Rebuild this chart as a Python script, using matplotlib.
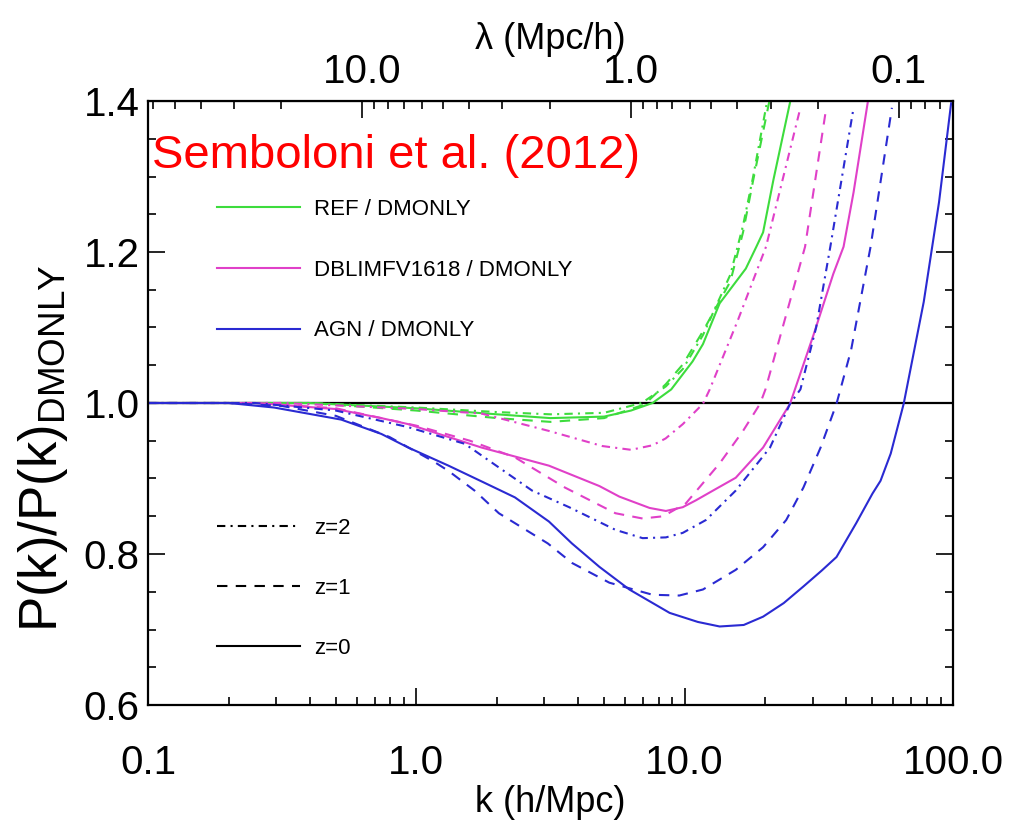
import numpy as np
import matplotlib
matplotlib.use('Agg')
import matplotlib.pyplot as plt
from matplotlib.lines import Line2D
from matplotlib.ticker import LogLocator, MultipleLocator, FuncFormatter, NullFormatter, FixedLocator

plt.rcParams['font.family'] = ['Liberation Sans', 'DejaVu Sans']
plt.rcParams['mathtext.fontset'] = 'custom'
plt.rcParams['mathtext.rm'] = 'Liberation Sans'
plt.rcParams['mathtext.it'] = 'Liberation Sans:italic'

# ---------------- data ----------------
# AGN / DMONLY
agn_z0_k = [0.100, 0.200, 0.295, 0.525, 0.741, 0.933, 1.318, 1.778, 2.33, 3.12, 3.80, 4.81, 6.22,
            8.79, 11.2, 13.5, 16.6, 19.6, 23.4, 27.7, 32.4, 36.8, 43.6, 50.1, 53.7, 58.6, 65.5,
            70.8, 77.8, 88.7, 98.4]
agn_z0_r = [1.000, 1.000, 0.994, 0.978, 0.959, 0.941, 0.917, 0.895, 0.875, 0.843, 0.814, 0.783, 0.753,
            0.722, 0.710, 0.704, 0.706, 0.717, 0.735, 0.757, 0.778, 0.796, 0.841, 0.880, 0.897, 0.933, 0.999,
            1.060, 1.134, 1.266, 1.397]

agn_z1_k = [0.100, 0.200, 0.316, 0.501, 0.794, 1.167, 1.318, 1.648, 2.03, 3.09, 3.81, 5.24, 7.59,
            9.55, 11.7, 15.5, 19.6, 23.9, 27.7, 32.1, 36.8, 41.7, 49.3, 59.2]
agn_z1_r = [1.000, 1.000, 0.996, 0.983, 0.955, 0.922, 0.910, 0.884, 0.854, 0.814, 0.788, 0.762, 0.746,
            0.745, 0.753, 0.779, 0.809, 0.845, 0.888, 0.941, 0.999, 1.070, 1.207, 1.391]

agn_z2_k = [0.100, 0.251, 0.501, 0.933, 1.514, 1.648, 2.70, 3.71, 5.52, 6.97, 8.51, 9.84, 12.0,
            15.5, 20.8, 24.7, 27.0, 30.9, 34.9, 42.6]
agn_z2_r = [1.000, 1.000, 0.990, 0.968, 0.946, 0.937, 0.884, 0.862, 0.832, 0.821, 0.822, 0.828, 0.845,
            0.884, 0.941, 0.999, 1.018, 1.100, 1.207, 1.391]

# DBLIMFV1618 / DMONLY
dbl_z0_k = [0.100, 0.251, 0.501, 0.740, 0.933, 1.750, 3.12, 3.49, 4.81, 5.71, 7.40, 8.51, 9.84,
            11.0, 12.9, 15.5, 19.6, 24.7, 30.2, 35.8, 39.1, 42.6, 48.4]
dbl_z0_r = [1.000, 1.000, 0.992, 0.980, 0.972, 0.941, 0.917, 0.910, 0.890, 0.876, 0.861, 0.857, 0.862,
            0.871, 0.885, 0.901, 0.941, 0.999, 1.090, 1.171, 1.207, 1.279, 1.404]

dbl_z1_k = [0.100, 0.251, 0.501, 1.000, 1.585, 2.33, 3.58, 5.52, 6.97, 8.32, 10.1, 13.5, 16.5,
            19.1, 20.0, 28.1, 33.7]
dbl_z1_r = [1.000, 1.000, 0.993, 0.970, 0.950, 0.928, 0.888, 0.854, 0.847, 0.850, 0.867, 0.920, 0.963,
            0.999, 1.018, 1.207, 1.391]

dbl_z2_k = [0.100, 0.316, 1.000, 1.750, 3.12, 4.93, 6.31, 7.59, 8.49, 9.84, 11.7, 12.4, 15.8, 20.1, 27.0]
dbl_z2_r = [1.000, 1.000, 0.992, 0.986, 0.963, 0.943, 0.938, 0.944, 0.953, 0.972, 0.999, 1.018, 1.110,
            1.207, 1.391]

# REF / DMONLY
ref_z0_k = [0.100, 0.398, 1.000, 2.00, 3.16, 5.01, 6.31, 7.59, 8.91, 10.7, 11.7, 13.5, 16.9, 18.5,
            19.6, 21.4, 24.9]
ref_z0_r = [1.000, 1.000, 0.993, 0.985, 0.980, 0.982, 0.990, 1.000, 1.018, 1.055, 1.078, 1.132, 1.178,
            1.207, 1.226, 1.295, 1.404]

ref_z1_k = [0.100, 0.398, 1.000, 2.00, 3.16, 5.01, 7.08, 8.51, 9.84, 11.7, 14.8, 16.5, 18.0, 20.8]
ref_z1_r = [1.000, 1.000, 0.990, 0.980, 0.975, 0.980, 0.998, 1.025, 1.051, 1.095, 1.161, 1.226, 1.295,
            1.404]

ref_z2_k = [0.100, 0.398, 1.000, 2.00, 3.16, 5.01, 6.92, 8.51, 9.84, 11.7, 14.8, 16.5, 18.0, 20.4]
ref_z2_r = [1.000, 1.000, 0.994, 0.988, 0.985, 0.987, 1.000, 1.022, 1.045, 1.090, 1.170, 1.235, 1.300,
            1.404]

model_labels = ['REF / DMONLY', 'DBLIMFV1618 / DMONLY', 'AGN / DMONLY']
z_labels = ['z=2', 'z=1', 'z=0']

x_ticks = [0.1, 1.0, 10.0, 100.0]
lam_ticks = [10.0, 1.0, 0.1]
y_ticks = [0.6, 0.8, 1.0, 1.2, 1.4]

# ---------------- style ----------------
GREEN = '#3ddc3d'
MAGENTA = '#e040c8'
BLUE = '#2a2ad2'
LW = 1.5
DASH = (0, (5, 4))
DASHDOT = (0, (4, 2.5, 1, 2.5))
TICKFS = 29

fig = plt.figure(figsize=(10.10, 8.21), dpi=100)
ax = fig.add_axes([148 / 1010, 116 / 821, 805 / 1010, 604 / 821])

ax.axhline(1.0, color='black', lw=1.6, zorder=1)

series = [
    (ref_z2_k, ref_z2_r, GREEN, DASHDOT),
    (ref_z1_k, ref_z1_r, GREEN, DASH),
    (ref_z0_k, ref_z0_r, GREEN, '-'),
    (dbl_z2_k, dbl_z2_r, MAGENTA, DASHDOT),
    (dbl_z1_k, dbl_z1_r, MAGENTA, DASH),
    (dbl_z0_k, dbl_z0_r, MAGENTA, '-'),
    (agn_z2_k, agn_z2_r, BLUE, DASHDOT),
    (agn_z1_k, agn_z1_r, BLUE, DASH),
    (agn_z0_k, agn_z0_r, BLUE, '-'),
]
for k, r, c, ls in series:
    ax.plot(k, r, color=c, ls=ls, lw=LW, zorder=2)

ax.set_xscale('log')
ax.set_xlim(0.1, 100)
ax.set_ylim(0.6, 1.4)

ax.xaxis.set_major_locator(FixedLocator(x_ticks))
ax.xaxis.set_major_formatter(FuncFormatter(lambda v, p: f'{v:.1f}'))
ax.xaxis.set_minor_locator(LogLocator(base=10, subs=np.arange(2, 10)))
ax.xaxis.set_minor_formatter(NullFormatter())
ax.yaxis.set_major_locator(FixedLocator(y_ticks))
ax.yaxis.set_major_formatter(FuncFormatter(lambda v, p: f'{v:.1f}'))
ax.yaxis.set_minor_locator(MultipleLocator(0.05))

ax.tick_params(which='both', direction='in', top=False, right=True, bottom=True, left=True,
               width=1.2, colors='black')
ax.tick_params(which='major', length=12, labelsize=TICKFS)
ax.tick_params(which='minor', length=6)
ax.tick_params(axis='x', which='major', pad=28)
ax.tick_params(axis='y', which='major', pad=6)
for s in ax.spines.values():
    s.set_linewidth(1.6)


def k2lam(k):
    k = np.asarray(k, dtype=float)
    with np.errstate(divide='ignore', invalid='ignore'):
        return 2 * np.pi / k


secax = ax.secondary_xaxis('top', functions=(k2lam, k2lam))
secax.xaxis.set_major_locator(FixedLocator(lam_ticks))
secax.xaxis.set_minor_locator(LogLocator(base=10, subs=np.arange(2, 10)))
secax.xaxis.set_major_formatter(FuncFormatter(lambda v, p: f'{v:.1f}'))
secax.xaxis.set_minor_formatter(NullFormatter())
secax.tick_params(which='both', direction='in', width=1.2)
secax.tick_params(which='major', length=12, labelsize=TICKFS, pad=7)
secax.tick_params(which='minor', length=6)
secax.set_xlabel('λ (Mpc/h)', fontsize=26, labelpad=3)

ax.set_xlabel('k (h/Mpc)', fontsize=26, labelpad=2)
ax.set_ylabel(r'P(k)/P(k)$_{\mathrm{DMONLY}}$', fontsize=38)
ax.yaxis.set_label_coords(-0.097, 0.425)

ax.text(0.005, 0.889, 'Semboloni et al. (2012)', transform=ax.transAxes, color='red',
        fontsize=34, va='baseline', ha='left')

h1 = [Line2D([], [], color=c, lw=LW) for c in (GREEN, MAGENTA, BLUE)]
leg1 = ax.legend(h1, model_labels, loc='upper left', bbox_to_anchor=(0.0857, 0.838),
                 frameon=False, fontsize=16, handlelength=3.75, handletextpad=0.6,
                 labelspacing=1.79, borderpad=0, borderaxespad=0)
ax.add_artist(leg1)
h2 = [Line2D([], [], color='black', lw=LW, ls=ls) for ls in (DASHDOT, DASH, '-')]
ax.legend(h2, z_labels, loc='upper left', bbox_to_anchor=(0.0857, 0.310),
          frameon=False, fontsize=16, handlelength=3.75, handletextpad=0.6,
          labelspacing=1.75, borderpad=0, borderaxespad=0)

fig.savefig('out.png', dpi=100)
